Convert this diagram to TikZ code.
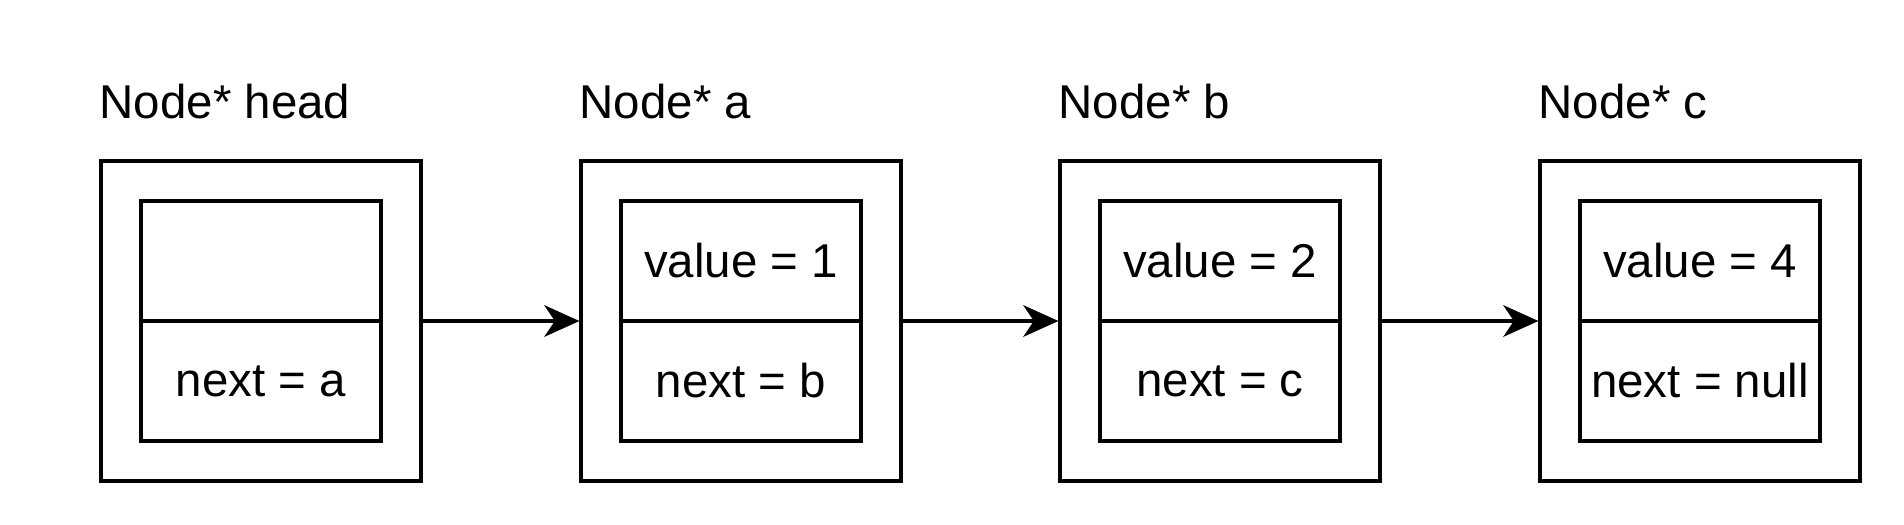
\documentclass[tikz,border=0pt]{standalone}
\usepackage{fontspec}
\setmainfont{Liberation Sans}
\usetikzlibrary{positioning}
\usetikzlibrary{arrows.meta}

\begin{document}
\begin{tikzpicture}
\tikzstyle{outer} = [rectangle, draw, line width=0.9pt, minimum width=3.2cm, minimum height=3.2cm, inner sep=0pt]
\tikzstyle{cell} = [rectangle, draw, line width=0.9pt, minimum width=2.4cm, minimum height=1.2cm, inner sep=0pt, font=\fontsize{13.5}{16}\selectfont]
\tikzstyle{title} = [anchor=base west, inner sep=0pt, font=\fontsize{13.5}{16}\selectfont]
\tikzstyle{connector} = [draw, line width=0.9pt, -{Stealth[length=10pt,width=9pt,inset=3pt]}]

\useasboundingbox (0,0) rectangle (19.04,-5.24);

\node [outer] at (2.61,-3.21) (head) {};
\node [outer] at (7.41,-3.21) (a) {};
\node [outer] at (12.20,-3.21) (b) {};
\node [outer] at (17.00,-3.21) (c) {};

\node [title] at (0.99,-1.18) (thead) {Node* head};
\node [title] at (5.79,-1.18) (ta) {Node* a};
\node [title] at (10.58,-1.18) (tb) {Node* b};
\node [title] at (15.38,-1.18) (tc) {Node* c};

\node [cell] at (2.61,-2.61) (headv) {};
\node [cell] at (2.61,-3.81) (headn) {next = a};
\node [cell] at (7.41,-2.61) (av) {value = 1};
\node [cell] at (7.41,-3.81) (an) {next = b};
\node [cell] at (12.20,-2.61) (bv) {value = 2};
\node [cell] at (12.20,-3.81) (bn) {next = c};
\node [cell] at (17.00,-2.61) (cv) {value = 4};
\node [cell] at (17.00,-3.81) (cn) {next = null};

\path [connector] (head) -- (a);
\path [connector] (a) -- (b);
\path [connector] (b) -- (c);

\end{tikzpicture}
\end{document}
